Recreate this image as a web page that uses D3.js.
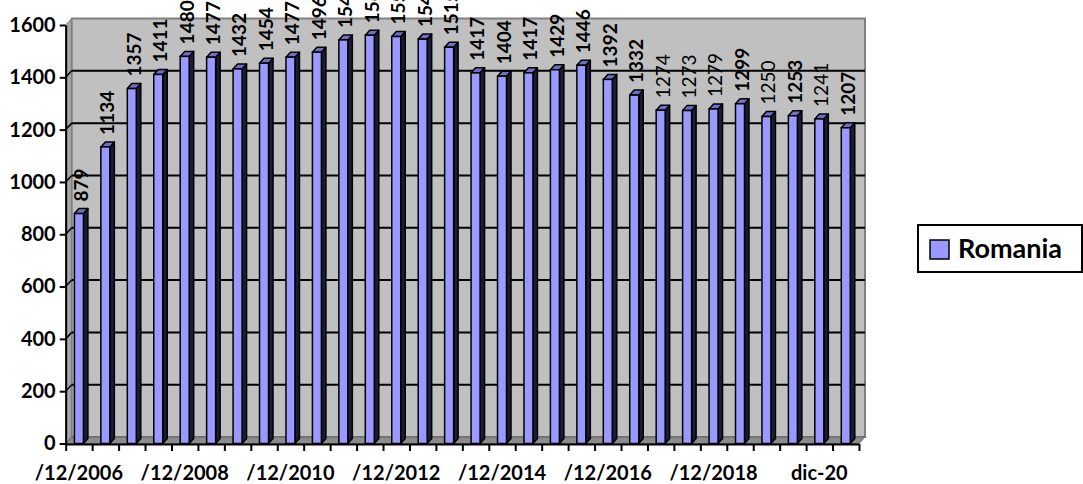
<!DOCTYPE html>
<html>
<head>
<meta charset="utf-8">
<style>
  html, body { margin: 0; padding: 0; background: #fff; }
  svg { display: block; }
  text { font-family: Lato, "Open Sans", sans-serif; fill: #000; }
  .axis path, .axis line { stroke: #000; stroke-width: 2px; }
  .axis text { font-weight: bold; font-size: 20px; }
</style>
</head>
<body>
<svg width="1083" height="484"></svg>
<script src="https://d3js.org/d3.v7.min.js"></script>
<script>

// data
var categories = [
  "/12/2006", "/06/2007", "/12/2007", "/06/2008", "/12/2008", "/06/2009",
  "/12/2009", "/06/2010", "/12/2010", "/06/2011", "/12/2011", "/06/2012",
  "/12/2012", "/06/2013", "/12/2013", "/06/2014", "/12/2014", "/06/2015",
  "/12/2015", "/06/2016", "/12/2016", "/06/2017", "/12/2017", "/06/2018",
  "/12/2018", "/06/2019", "/12/2019", "/06/2020", "dic-20", "jun-21"
];
var romania = [
  879, 1134, 1357, 1411, 1480, 1477, 1432, 1454, 1477, 1496,
  1543, 1561, 1556, 1546, 1515, 1417, 1404, 1417, 1429, 1446,
  1392, 1332, 1274, 1273, 1279, 1299, 1250, 1253, 1241, 1207
];
var seriesName = "Romania";
var yTicks = [0, 200, 400, 600, 800, 1000, 1200, 1400, 1600];

// labels drawn in regular weight instead of bold
var plainLabels = [22, 23, 24, 26, 28];

var svg = d3.select("svg");

// front plane of the plot + depth offset of the back wall
var plotLeft = 65.7, plotRight = 859, plotBottom = 443.5, plotTop = 25;
var dx = 6, dy = -6.5;      // wall depth
var bdx = 4.5, bdy = -5;    // bar depth

var x = d3.scaleBand()
    .domain(categories)
    .range([plotLeft, plotRight])
    .paddingInner(0.66)
    .paddingOuter(0.33);

var xTicks = d3.scaleLinear()
    .domain([0, categories.length])
    .range([plotLeft, plotRight]);

var y = d3.scaleLinear()
    .domain([0, 1600])
    .range([plotBottom, plotTop]);

// walls
svg.append("polygon")
    .attr("points", [[plotLeft, y(0)], [plotLeft, y(1600)], [plotLeft + dx, y(1600) + dy], [plotLeft + dx, y(0) + dy]].join(" "))
    .attr("fill", "#a8a8a8")
    .attr("stroke", "#808080")
    .attr("stroke-width", 1);

svg.append("rect")
    .attr("x", plotLeft + dx)
    .attr("y", y(1600) + dy)
    .attr("width", plotRight - plotLeft)
    .attr("height", y(0) - y(1600))
    .attr("fill", "#c0c0c0")
    .attr("stroke", "#808080")
    .attr("stroke-width", 2);

// floor
svg.append("polygon")
    .attr("points", [[plotLeft, y(0)], [plotLeft + dx, y(0) + dy], [plotRight + dx, y(0) + dy], [plotRight, y(0)]].join(" "))
    .attr("fill", "#8c8c8c")
    .attr("stroke", "#606060")
    .attr("stroke-width", 1);

// gridlines
var grid = svg.append("g");
grid.selectAll("line.back")
    .data(yTicks.slice(1, -1))
    .enter().append("line")
    .attr("class", "back")
    .attr("x1", plotLeft + dx).attr("x2", plotRight + dx)
    .attr("y1", function(d) { return y(d) + dy; })
    .attr("y2", function(d) { return y(d) + dy; })
    .attr("stroke", "#000").attr("stroke-width", 2);
grid.selectAll("line.side")
    .data(yTicks.slice(1, -1))
    .enter().append("line")
    .attr("class", "side")
    .attr("x1", plotLeft).attr("x2", plotLeft + dx)
    .attr("y1", function(d) { return y(d); })
    .attr("y2", function(d) { return y(d) + dy; })
    .attr("stroke", "#000").attr("stroke-width", 1.5);

// bars
var bars = svg.append("g")
  .selectAll("g")
  .data(romania)
  .enter().append("g");

var bw = x.bandwidth();

bars.append("polygon")   // side
    .attr("points", function(d, i) {
      var x1 = x(categories[i]) + bw;
      return [[x1, y(d)], [x1 + bdx, y(d) + bdy], [x1 + bdx, y(0) + bdy], [x1, y(0)]].join(" ");
    })
    .attr("fill", "#1c1c3a")
    .attr("stroke", "#000")
    .attr("stroke-width", 1.5)
    .attr("stroke-linejoin", "round");

bars.append("polygon")   // top
    .attr("points", function(d, i) {
      var x0 = x(categories[i]);
      return [[x0, y(d)], [x0 + bdx, y(d) + bdy], [x0 + bw + bdx, y(d) + bdy], [x0 + bw, y(d)]].join(" ");
    })
    .attr("fill", "#6f6fc4")
    .attr("stroke", "#000")
    .attr("stroke-width", 1.5)
    .attr("stroke-linejoin", "round");

bars.append("rect")      // front
    .attr("x", function(d, i) { return x(categories[i]); })
    .attr("y", function(d) { return y(d); })
    .attr("width", bw)
    .attr("height", function(d) { return y(0) - y(d); })
    .attr("fill", "#9999ff")
    .attr("stroke", "#000")
    .attr("stroke-width", 1.5);

// value labels
bars.append("text")
    .attr("transform", function(d, i) {
      var cx = x(categories[i]) + bw / 2 + 2;
      return "translate(" + cx + "," + (y(d) + bdy - 7) + ") rotate(-90)";
    })
    .attr("dy", "0.36em")
    .style("font-size", "19px")
    .style("font-weight", function(d, i) { return plainLabels.indexOf(i) >= 0 ? "normal" : "bold"; })
    .text(function(d) { return d; });

// axes
svg.append("g")
    .attr("class", "axis")
    .attr("transform", "translate(" + plotLeft + ",0)")
    .call(d3.axisLeft(y).tickValues(yTicks).tickFormat(d3.format("d"))
      .tickSize(6).tickPadding(4).tickSizeOuter(0));

svg.append("g")
    .attr("class", "axis")
    .attr("transform", "translate(0," + (plotBottom + 0.5) + ")")
    .call(d3.axisBottom(xTicks).tickValues(d3.range(categories.length + 1)).tickFormat("").tickSize(7).tickSizeOuter(0));

svg.append("g")
    .attr("class", "axis")
  .selectAll("text")
  .data(categories.filter(function(d, i) { return i % 4 === 0; }))
  .enter().append("text")
    .attr("x", function(d) { return x(d) + bw / 2; })
    .attr("y", 480)
    .attr("text-anchor", "middle")
    .text(function(d) { return d; });

// legend
var legend = svg.append("g").attr("transform", "translate(918,225)");
legend.append("rect")
    .attr("width", 164).attr("height", 47)
    .attr("fill", "#fff").attr("stroke", "#000").attr("stroke-width", 2);
legend.append("rect")
    .attr("x", 12).attr("y", 15).attr("width", 19).attr("height", 19)
    .attr("fill", "#9999ff").attr("stroke", "#000").attr("stroke-width", 1.5);
legend.append("text")
    .attr("x", 40).attr("y", 33)
    .style("font-size", "27px").style("font-weight", "bold")
    .text(seriesName);

</script>
</body>
</html>
